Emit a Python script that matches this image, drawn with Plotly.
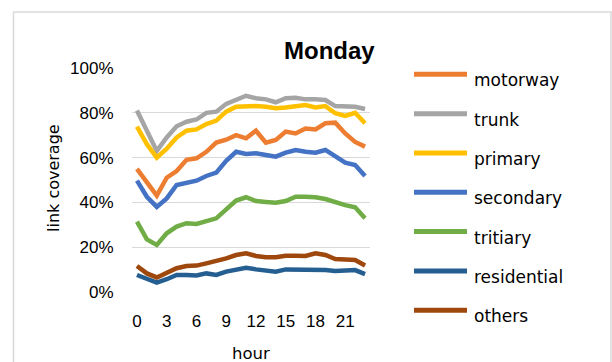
import plotly.graph_objects as go

# Hourly link coverage (%) on Monday, per road class
hours = list(range(24))
series_names = ["motorway", "trunk", "primary", "secondary", "tritiary", "residential", "others"]
series_colors = ["#ED7D31", "#A5A5A5", "#FFC000", "#4472C4", "#70AD47", "#255E91", "#9E480E"]

motorway = [55, 49, 43, 51, 54, 59, 59.7, 62.6, 66.7, 68, 70, 68.6, 72, 66.7, 67.9, 71.6,
            70.8, 73, 72.6, 75.3, 75.6, 70.8, 67, 64.9]
trunk = [81, 72, 63, 69, 74, 76, 77, 80, 80.5, 84, 85.7, 87.6, 86.5, 86, 84.7, 86.5,
         86.7, 86, 86, 85.7, 83, 83, 82.7, 81.7]
primary = [73.8, 66, 60, 64, 69, 72, 72.6, 75, 76.5, 80.5, 82.7, 83, 83, 82.7, 82, 82.4,
           83, 83.5, 82.4, 83, 79.8, 78.6, 80, 75.3]
secondary = [49.7, 42.5, 38, 41.8, 47.8, 48.8, 49.7, 51.8, 53.3, 58.6, 62.6, 61.6, 61.9, 61.2,
             60.4, 62.2, 63.4, 62.6, 62.2, 63.4, 60.7, 57.7, 56.7, 51.8]
tritiary = [31.4, 23.5, 21, 26.2, 29.2, 30.7, 30.4, 31.8, 32.9, 36.9, 40.8, 42.3, 40.6, 40.2,
            39.9, 40.6, 42.5, 42.5, 42.3, 41.5, 40, 38.8, 37.8, 32.9]
residential = [7.6, 5.7, 4.2, 5.7, 7.6, 7.6, 7.4, 8.3, 7.6, 9.1, 10.1, 10.8, 10.1, 9.5, 9.1,
               10.1, 10.1, 10.3, 10.3, 9.8, 9.4, 9.4, 9.8, 8]
others = [11.6, 8.3, 6.5, 8.6, 10.6, 11.6, 11.8, 12.8, 13.8, 15, 16.5, 17.3, 16.1, 15.5, 15.5,
          16.2, 16.2, 16.1, 17.3, 16.5, 14.7, 14.3, 14.3, 11.8]

series_values = [motorway, trunk, primary, secondary, tritiary, residential, others]
x_tick_vals = [0, 3, 6, 9, 12, 15, 18, 21]
y_tick_vals = [0, 0.2, 0.4, 0.6, 0.8, 1.0]

W, H = 612, 362
L, R, T, B = 132, 370, 68, 292  # plot area in pixels


def px(x):
    return (x - L) / (R - L)


def py(y):
    return (B - y) / (B - T)


fig = go.Figure()
for name, color, vals in zip(series_names, series_colors, series_values):
    fig.add_trace(go.Scatter(
        x=hours, y=[v / 100 for v in vals], mode="lines", name=name,
        line=dict(color=color, width=4.5), showlegend=False,
    ))

shapes = []
annotations = []

# outer chart border
shapes.append(dict(type="rect", xref="paper", yref="paper",
                   x0=px(13.5), x1=px(611), y0=py(375), y1=py(12),
                   line=dict(color="#d9d9d9", width=1.5), fillcolor="rgba(0,0,0,0)",
                   layer="below"))

# legend drawn at the right
legend_font = dict(family="DejaVu Sans", size=17, color="#000000")
for i, (name, color) in enumerate(zip(series_names, series_colors)):
    ly = 74.3 + i * 39.33
    shapes.append(dict(type="line", xref="paper", yref="paper",
                       x0=px(414), x1=px(467), y0=py(ly), y1=py(ly),
                       line=dict(color=color, width=5)))
    annotations.append(dict(text=name, xref="paper", yref="paper",
                            x=px(472), y=py(ly + 6), xanchor="left", yanchor="middle",
                            showarrow=False, font=legend_font))

# chart title
annotations.append(dict(text="<b>Monday</b>", xref="paper", yref="paper",
                        x=px(329), y=py(50), xanchor="center", yanchor="middle",
                        showarrow=False,
                        font=dict(family="Liberation Sans", size=24, color="#000000")))

# axis titles
annotations.append(dict(text="hour", xref="paper", yref="paper",
                        x=px(251), y=py(353), xanchor="center", yanchor="middle",
                        showarrow=False,
                        font=dict(family="DejaVu Sans", size=16.5, color="#000000")))
annotations.append(dict(text="link coverage", xref="paper", yref="paper",
                        x=px(53), y=py(178), xanchor="center", yanchor="middle",
                        textangle=-90, showarrow=False,
                        font=dict(family="DejaVu Sans", size=16, color="#000000")))

tick_font = dict(family="Liberation Sans", size=17, color="#000000")

fig.update_layout(
    width=W, height=H,
    margin=dict(l=L, r=W - R, t=T, b=H - B),
    paper_bgcolor="white", plot_bgcolor="white",
    showlegend=False,
    shapes=shapes, annotations=annotations,
    xaxis=dict(range=[-0.5, 23.5], tickmode="array", tickvals=x_tick_vals,
               ticktext=[str(v) for v in x_tick_vals], showgrid=False, zeroline=False,
               showline=False, ticks="outside", ticklen=14, tickcolor="rgba(0,0,0,0)",
               tickfont=tick_font),
    yaxis=dict(range=[0, 1], tickmode="array", tickvals=y_tick_vals, tickformat=".0%",
               showgrid=True, gridcolor="#d9d9d9", gridwidth=1.2, zeroline=False,
               showline=False, ticks="outside", ticklen=14, tickcolor="rgba(0,0,0,0)",
               tickfont=tick_font),
)

fig.write_html("out.html")
